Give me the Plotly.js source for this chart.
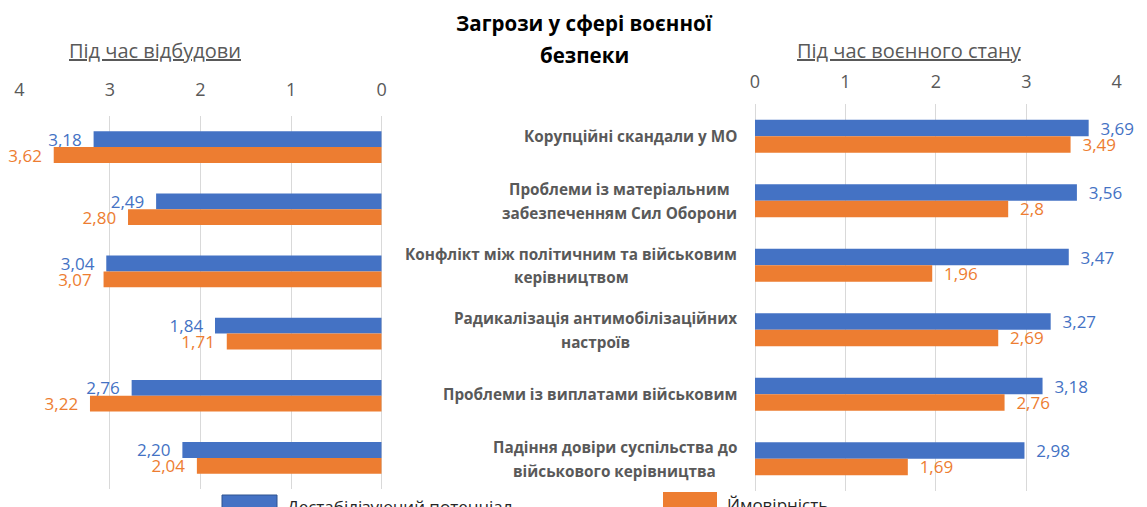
<!DOCTYPE html>
<html>
<head>
<meta charset="utf-8">
<script src="https://cdn.plot.ly/plotly-3.0.1.min.js"></script>
<style>
html,body{margin:0;padding:0;background:#fff;}
#chart{width:1147px;height:507px;}
</style>
</head>
<body>
<div id="chart"></div>
<script>
// ---- data ----
const categories = [
  'Корупційні скандали у МО',
  'Проблеми із матеріальним<br>забезпеченням Сил Оборони',
  'Конфлікт між політичним та військовим<br>керівництвом',
  'Радикалізація антимобілізаційних<br>настроїв',
  'Проблеми із виплатами військовим',
  'Падіння довіри суспільства до<br>військового керівництва'
];
const seriesNames = ['Дестабілізуючий потенціал', 'Ймовірність'];
const rebuildDestab = [3.18, 2.49, 3.04, 1.84, 2.76, 2.20];
const rebuildProb   = [3.62, 2.80, 3.07, 1.71, 3.22, 2.04];
const warDestab     = [3.69, 3.56, 3.47, 3.27, 3.18, 2.98];
const warProb       = [3.49, 2.8, 1.96, 2.69, 2.76, 1.69];
const tickVals = [0, 1, 2, 3, 4];
const tickText = ['0', '1', '2', '3', '4'];
const chartTitleLines = ['Загрози у сфері воєнної', 'безпеки'];
const leftTitle = 'Під час відбудови';
const rightTitle = 'Під час воєнного стану';

// ---- style ----
const BLUE = '#4472C4', ORANGE = '#ED7D31', GRAY = '#595959', GRID = '#d9d9d9';
const FONT = "'Open Sans', sans-serif";
const W = 1147, H = 507;
const pad = '\u00A0\u00A0';

const fmt2 = v => v.toFixed(2).replace('.', ',');
const fmtS = v => String(v).replace('.', ',');

function barTrace(vals, name, color, xa, ya, textFn, leftSide) {
  return {
    type: 'bar', orientation: 'h',
    x: vals, y: categories, name: name,
    xaxis: xa, yaxis: ya,
    marker: {color: color, line: {width: 0}},
    text: vals.map(v => leftSide ? textFn(v) + pad : pad + textFn(v)),
    textposition: 'outside',
    textfont: {family: FONT, size: 17, color: color},
    constraintext: 'none',
    cliponaxis: false,
    hoverinfo: 'skip',
    showlegend: false
  };
}

const data = [
  barTrace(rebuildDestab, seriesNames[0], BLUE, 'x', 'y', fmt2, true),
  barTrace(rebuildProb, seriesNames[1], ORANGE, 'x', 'y', fmt2, true),
  barTrace(warDestab, seriesNames[0], BLUE, 'x2', 'y2', fmtS, false),
  barTrace(warProb, seriesNames[1], ORANGE, 'x2', 'y2', fmtS, false)
];

function xaxisCfg(range, domain, anchor, standoff) {
  return {
    domain: domain, range: range, anchor: anchor, side: 'top',
    tickvals: tickVals, ticktext: tickText, ticks: '',
    ticklabelstandoff: standoff,
    tickfont: {family: FONT, size: 18, color: GRAY},
    showgrid: true, gridcolor: GRID, gridwidth: 1,
    zeroline: true, zerolinecolor: GRID, zerolinewidth: 1,
    showline: false, fixedrange: true, automargin: false
  };
}
function yaxisCfg(domain, anchor) {
  return {
    domain: domain, anchor: anchor, type: 'category',
    autorange: 'reversed', showticklabels: false, ticks: '',
    showgrid: false, zeroline: false, showline: false,
    fixedrange: true, automargin: false
  };
}

// measure text for centred multi-line category labels
const CAT_SIZE = 15.3;
const cv = document.createElement('canvas').getContext('2d');
cv.font = "bold " + CAT_SIZE + "px 'Open Sans'";
const annotations = [];
const LINE_H = 23.5;
categories.forEach(cat => {
  const lines = cat.split('<br>');
  const wmax = Math.max(...lines.map(l => cv.measureText(l).width));
  const n = lines.length;
  lines.forEach((ln, i) => {
    annotations.push({
      xref: 'x2', yref: 'y2', x: 0, y: cat,
      text: ln, showarrow: false,
      xanchor: 'center', yanchor: 'middle',
      xshift: -18 - wmax / 2,
      yshift: ((n - 1) / 2 - i) * LINE_H,
      font: {family: FONT, size: CAT_SIZE, color: GRAY, weight: 'bold'}
    });
  });
});

// titles
annotations.push({xref: 'paper', yref: 'paper', x: 584 / W, y: 1 - 23 / H, text: '<b>' + chartTitleLines[0] + '</b>',
  showarrow: false, xanchor: 'center', yanchor: 'middle', font: {family: FONT, size: 20.5, color: '#000'}});
annotations.push({xref: 'paper', yref: 'paper', x: 584 / W, y: 1 - 55 / H, text: '<b>' + chartTitleLines[1] + '</b>',
  showarrow: false, xanchor: 'center', yanchor: 'middle', font: {family: FONT, size: 20.5, color: '#000'}});
annotations.push({xref: 'paper', yref: 'paper', x: 155 / W, y: 1 - 50 / H, text: '<u>' + leftTitle + '</u>',
  showarrow: false, xanchor: 'center', yanchor: 'middle', font: {family: FONT, size: 20, color: GRAY}});
annotations.push({xref: 'paper', yref: 'paper', x: 909 / W, y: 1 - 50 / H, text: '<u>' + rightTitle + '</u>',
  showarrow: false, xanchor: 'center', yanchor: 'middle', font: {family: FONT, size: 20, color: GRAY}});

// legend (custom, partially cut at bottom as in reference)
annotations.push({xref: 'paper', yref: 'paper', x: 285 / W, y: 1 - 506 / H, text: seriesNames[0],
  showarrow: false, xanchor: 'left', yanchor: 'middle', font: {family: FONT, size: 17, color: '#262626'}});
annotations.push({xref: 'paper', yref: 'paper', x: 725 / W, y: 1 - 504 / H, text: seriesNames[1],
  showarrow: false, xanchor: 'left', yanchor: 'middle', font: {family: FONT, size: 17, color: '#262626'}});
const shapes = [
  {type: 'rect', xref: 'paper', yref: 'paper', x0: 222 / W, x1: 277 / W, y0: -0.03, y1: 1 - 495 / H,
    fillcolor: BLUE, line: {color: '#2F528F', width: 1}},
  {type: 'rect', xref: 'paper', yref: 'paper', x0: 663 / W, x1: 717 / W, y0: -0.03, y1: 1 - 492 / H,
    fillcolor: ORANGE, line: {width: 0}}
];

const layout = {
  width: W, height: H,
  margin: {l: 0, r: 0, t: 0, b: 0, pad: 0},
  paper_bgcolor: '#fff', plot_bgcolor: 'rgba(0,0,0,0)',
  barmode: 'group', bargap: 0.49, bargroupgap: 0,
  showlegend: false, hovermode: false,
  font: {family: FONT, color: GRAY},
  xaxis: xaxisCfg([4, 0], [19.3 / W, 381.7 / W], 'y', 15),
  yaxis: yaxisCfg([(H - 489) / H, (H - 116) / H], 'x'),
  xaxis2: xaxisCfg([0, 4], [755 / W, 1116.7 / W], 'y2', 11),
  yaxis2: yaxisCfg([(H - 491) / H, (H - 104) / H], 'x2'),
  annotations: annotations,
  shapes: shapes
};

Plotly.newPlot('chart', data, layout, {displayModeBar: false, staticPlot: true});
</script>
</body>
</html>
